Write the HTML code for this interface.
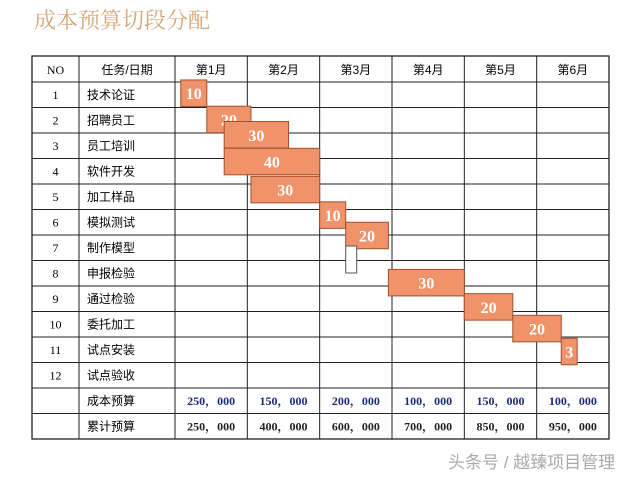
<!DOCTYPE html>
<html><head><meta charset="utf-8"><style>
html,body{margin:0;padding:0;background:#fff;width:640px;height:480px;overflow:hidden}
svg{display:block}
</style></head><body>
<svg id="c" width="640" height="480" xmlns="http://www.w3.org/2000/svg">
<text x="34" y="28" font-family="'Liberation Serif','Noto Serif CJK SC',serif" font-size="22" fill="#d6a77a">成本预算切段分配</text>
<g id="grid"></g>
<g id="bars"></g>
<g id="txt"></g>
<text x="448" y="468" font-family="'Liberation Sans','Noto Sans CJK SC',sans-serif" font-size="17" fill="#aaa">头条号 / 越臻项目管理</text>
</svg>
<script>
const months = ['第1月','第2月','第3月','第4月','第5月','第6月'];
const tasks = ['技术论证','招聘员工','员工培训','软件开发','加工样品','模拟测试','制作模型','申报检验','通过检验','委托加工','试点安装','试点验收'];
const barStart = [0.08,0.44,0.68,0.68,1.05,2.0,2.36,2.95,4.0,4.67,5.34];
const barEnd   = [0.44,1.05,1.57,2.0,2.0,2.36,2.95,4.0,4.67,5.34,5.56];
const barRow   = [0,1,2,3,4,5,6,7,8,9,10];
const barTop   = [-0.08,0.95,1.55,2.6,3.7,4.7,5.5,7.35,8.3,9.15,10.05];
const barVal   = ['10','20','30','40','30','10','20','30','20','20','3'];
const budget   = ['250，000','150，000','200，000','100，000','150，000','100，000'];
const cumul    = ['250，000','400，000','600，000','700，000','850，000','950，000'];

const NS='http://www.w3.org/2000/svg';
const L=32,R=609,C1=79,C2=175,T=56,HH=26,RH=25.5;
const mx=m=>C2+m*(R-C2)/6;
const ry=r=>T+HH+r*RH;
function el(tag,attrs,parent,text){const e=document.createElementNS(NS,tag);for(const k in attrs)e.setAttribute(k,attrs[k]);if(text!==undefined)e.textContent=text;parent.appendChild(e);return e;}
const grid=document.getElementById('grid'),bars=document.getElementById('bars'),txt=document.getElementById('txt');
const nRows=tasks.length+2;
const bottom=ry(nRows);
let g=el('rect',{x:L,y:T,width:R-L,height:bottom-T,fill:'none',stroke:'#222','stroke-width':1.3},grid);


for(let r=0;r<=nRows;r++){const y=(r===0?T+HH:ry(r));const ln=el('line',{x1:L,x2:R,y1:y,y2:y,stroke:'#222','stroke-width':1},grid);

}
[C1,C2].concat(months.map((_,i)=>mx(i+1)).slice(0,5)).forEach(x=>{const ln=el('line',{x1:x,x2:x,y1:T,y2:bottom,stroke:'#222','stroke-width':1},grid);

});
const serif="'Liberation Serif','Noto Serif CJK SC',serif", sans="'Liberation Sans','Noto Sans CJK SC',sans-serif";
let t=el('text',{x:(L+C1)/2,y:T+18,'text-anchor':'middle','font-family':serif,'font-size':12},txt,'NO');


t=el('text',{x:(C1+C2)/2,y:T+18,'text-anchor':'middle','font-family':sans,'font-size':12},txt,'任务/日期');


months.forEach((m,i)=>{const e=el('text',{x:(mx(i)+mx(i+1))/2,y:T+18,'text-anchor':'middle','font-family':sans,'font-size':12},txt,m);

});
tasks.forEach((tk,i)=>{const y=ry(i)+17;
let a=el('text',{x:(L+C1)/2,y:y,'text-anchor':'middle','font-family':serif,'font-size':12},txt,String(i+1));


let b=el('text',{x:C1+8,y:y,'font-family':sans,'font-size':12},txt,tk);

});
barStart.forEach((s,i)=>{const x0=mx(s),x1=mx(barEnd[i]),y0=ry(barTop[i]),h=RH+1;
const r=el('rect',{x:x0,y:y0,width:x1-x0,height:h,fill:'#f0936a',stroke:'#a2502c','stroke-width':1},bars);


const tx=el('text',{x:(x0+x1)/2,y:y0+h/2+6,'text-anchor':'middle','font-family':serif,'font-size':16,'font-weight':'bold',fill:'#fff'},bars,barVal[i]);

});
const sb=el('rect',{x:mx(2.36),y:ry(6)+11,width:11,height:27,fill:'#fff',stroke:'#555'},bars);


const by=ry(tasks.length)+17, cy=ry(tasks.length+1)+17;
let l1=el('text',{x:C1+8,y:by,'font-family':sans,'font-size':12},txt,'成本预算');


let l2=el('text',{x:C1+8,y:cy,'font-family':sans,'font-size':12},txt,'累计预算');


budget.forEach((v,i)=>{const e=el('text',{x:(mx(i)+mx(i+1))/2,y:by,'text-anchor':'middle','font-family':serif,'font-size':12,'font-weight':'bold',fill:'#1c2a7a'},txt,v);

});
cumul.forEach((v,i)=>{const e=el('text',{x:(mx(i)+mx(i+1))/2,y:cy,'text-anchor':'middle','font-family':serif,'font-size':12,'font-weight':'bold',fill:'#222'},txt,v);

});
</script>
</body></html>
